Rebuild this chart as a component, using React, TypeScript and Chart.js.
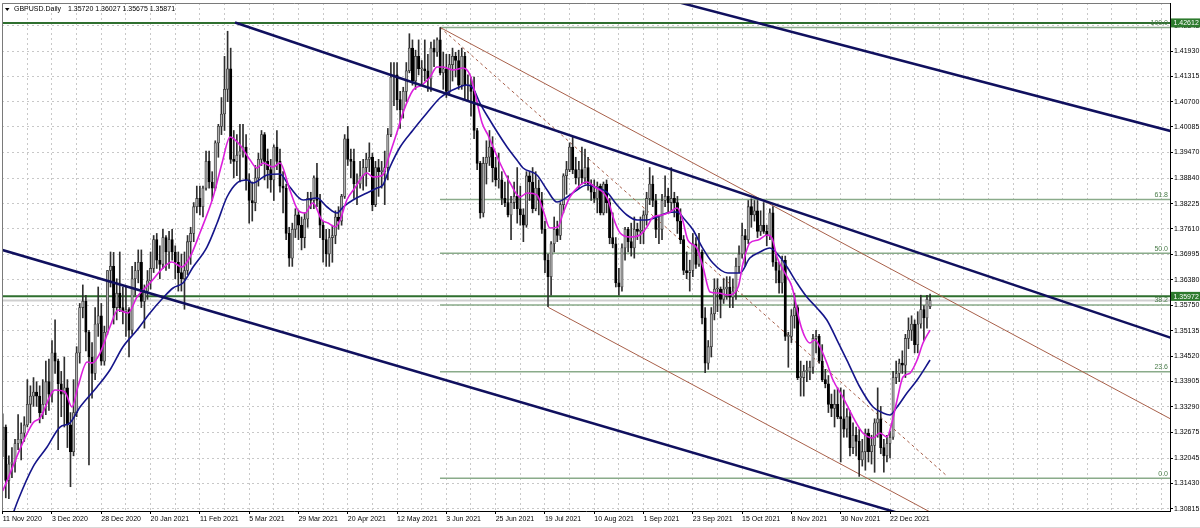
import React, { useEffect, useRef } from 'react';
import { Chart, registerables } from 'chart.js';

Chart.register(...registerables);

const symbolName = 'GBPUSD.Daily';

// Daily candles, bar 0 = 11 Nov 2020
const opens = [
  1.3250,1.3280,1.3150,1.3190,1.3195,1.3240,1.3250,1.3265,1.3285,1.3335,
  1.3355,1.3365,1.3355,1.3315,1.3335,1.3390,1.3360,1.3460,1.3440,1.3385,
  1.3360,1.3375,1.3285,1.3220,1.3315,1.3460,1.3570,1.3585,1.3510,1.3450,
  1.3410,1.3530,1.3550,1.3440,1.3510,1.3660,1.3670,1.3570,1.3605,1.3570,
  1.3560,1.3565,1.3515,1.3640,1.3660,1.3680,1.3585,1.3610,1.3635,1.3665,
  1.3735,1.3685,1.3675,1.3740,1.3705,1.3735,1.3705,1.3680,1.3655,1.3640,
  1.3660,1.3730,1.3750,1.3815,1.3835,1.3815,1.3860,1.3925,1.3875,1.3860,
  1.3970,1.4010,1.4040,1.4100,1.4150,1.3930,1.3925,1.3940,1.3950,1.3960,
  1.3880,1.3830,1.3825,1.3885,1.3930,1.3990,1.3925,1.3905,1.3880,1.3960,
  1.3925,1.3865,1.3860,1.3750,1.3690,1.3760,1.3795,1.3770,1.3740,1.3785,
  1.3835,1.3830,1.3885,1.3830,1.3770,1.3735,1.3700,1.3740,1.3745,1.3790,
  1.3780,1.3840,1.3980,1.3930,1.3925,1.3870,1.3870,1.3890,1.3910,1.3930,
  1.3935,1.3820,1.3910,1.3900,1.3900,1.3910,1.3990,1.4130,1.4135,1.4075,
  1.4050,1.4095,1.4145,1.4200,1.4120,1.4180,1.4150,1.4150,1.4145,1.4125,
  1.4200,1.4190,1.4220,1.4140,1.4150,1.4095,1.4160,1.4180,1.4170,1.4110,
  1.4180,1.4110,1.4110,1.4095,1.4000,1.3920,1.3800,1.3920,1.3935,1.3960,
  1.3910,1.3880,1.3880,1.3835,1.3825,1.3795,1.3825,1.3840,1.3810,1.3795,
  1.3770,1.3890,1.3875,1.3810,1.3860,1.3830,1.3760,1.3685,1.3645,1.3725,
  1.3760,1.3745,1.3820,1.3890,1.3905,1.3960,1.3905,1.3885,1.3905,1.3885,
  1.3910,1.3870,1.3850,1.3835,1.3865,1.3800,1.3870,1.3825,1.3740,1.3725,
  1.3630,1.3620,1.3715,1.3760,1.3730,1.3715,1.3760,1.3755,1.3755,1.3795,
  1.3835,1.3870,1.3830,1.3760,1.3760,1.3830,1.3840,1.3825,1.3835,1.3825,
  1.3780,1.3735,1.3660,1.3655,1.3660,1.3725,1.3675,1.3705,1.3545,1.3435,
  1.3475,1.3555,1.3615,1.3615,1.3590,1.3615,1.3620,1.3595,1.3610,1.3670,
  1.3700,1.3745,1.3735,1.3815,1.3795,1.3805,1.3755,1.3770,1.3755,1.3745,
  1.3800,1.3680,1.3660,1.3630,1.3685,1.3500,1.3500,1.3550,1.3570,1.3400,
  1.3400,1.3415,1.3415,1.3425,1.3495,1.3500,1.3440,1.3395,1.3385,1.3335,
  1.3325,1.3335,1.3305,1.3300,1.3275,1.3305,1.3230,1.3260,1.3245,1.3200,
  1.3220,1.3265,1.3220,1.3235,1.3290,1.3300,1.3230,1.3210,1.3240,1.3255,
  1.3400,1.3410,1.3435,1.3430,1.3495,1.3515,1.3530,1.3480,1.3530,1.3565,
  1.3545,1.35720,
];
const highs = [
  1.3312,1.3285,1.3210,1.3230,1.3250,1.3310,1.3290,1.3305,1.3395,1.3380,
  1.3400,1.3390,1.3380,1.3395,1.3440,1.3445,1.3490,1.3540,1.3445,1.3415,
  1.3450,1.3395,1.3315,1.3395,1.3475,1.3580,1.3625,1.3600,1.3515,1.3485,
  1.3570,1.3620,1.3580,1.3525,1.3660,1.3705,1.3704,1.3640,1.3705,1.3620,
  1.3620,1.3570,1.3670,1.3680,1.3710,1.3710,1.3625,1.3660,1.3705,1.3745,
  1.3750,1.3720,1.3760,1.3745,1.3755,1.3760,1.3720,1.3705,1.3700,1.3705,
  1.3745,1.3765,1.3825,1.3865,1.3865,1.3865,1.3950,1.3950,1.3900,1.3975,
  1.4015,1.4080,1.4180,1.4241,1.4200,1.4000,1.3990,1.4015,1.4015,1.3990,
  1.3895,1.3875,1.3915,1.3945,1.4000,1.3995,1.3955,1.3930,1.3965,1.4000,
  1.3955,1.3900,1.3870,1.3765,1.3775,1.3810,1.3805,1.3790,1.3800,1.3850,
  1.3850,1.3890,1.3920,1.3845,1.3780,1.3760,1.3760,1.3770,1.3805,1.3815,
  1.3845,1.3990,1.4010,1.3955,1.3955,1.3895,1.3925,1.3930,1.3945,1.3970,
  1.3945,1.3925,1.3930,1.3925,1.3950,1.4005,1.4165,1.4165,1.4165,1.4095,
  1.4105,1.4165,1.4235,1.4220,1.4195,1.4220,1.4170,1.4220,1.4185,1.4215,
  1.4220,1.4225,1.4250,1.4190,1.4185,1.4185,1.4200,1.4190,1.4195,1.4200,
  1.4190,1.4135,1.4130,1.4130,1.4005,1.3925,1.3935,1.3975,1.4000,1.3985,
  1.3935,1.3945,1.3900,1.3875,1.3890,1.3840,1.3875,1.3910,1.3865,1.3810,
  1.3900,1.3900,1.3910,1.3900,1.3880,1.3850,1.3780,1.3700,1.3730,1.3790,
  1.3780,1.3825,1.3895,1.3925,1.3970,1.3985,1.3935,1.3925,1.3960,1.3955,
  1.3935,1.3880,1.3880,1.3875,1.3870,1.3875,1.3880,1.3835,1.3800,1.3740,
  1.3665,1.3725,1.3765,1.3765,1.3775,1.3790,1.3775,1.3790,1.3805,1.3850,
  1.3910,1.3890,1.3845,1.3790,1.3845,1.3890,1.3860,1.3910,1.3850,1.3840,
  1.3810,1.3745,1.3705,1.3685,1.3750,1.3740,1.3750,1.3710,1.3570,1.3490,
  1.3570,1.3640,1.3640,1.3620,1.3640,1.3645,1.3645,1.3640,1.3690,1.3720,
  1.3775,1.3760,1.3830,1.3834,1.3830,1.3830,1.3805,1.3825,1.3770,1.3810,
  1.3815,1.3700,1.3680,1.3695,1.3695,1.3510,1.3565,1.3605,1.3575,1.3440,
  1.3430,1.3440,1.3440,1.3505,1.3515,1.3505,1.3480,1.3420,1.3405,1.3360,
  1.3370,1.3375,1.3375,1.3370,1.3325,1.3320,1.3290,1.3280,1.3275,1.3250,
  1.3275,1.3275,1.3260,1.3300,1.3375,1.3330,1.3250,1.3260,1.3270,1.3415,
  1.3440,1.3445,1.3465,1.3505,1.3545,1.3550,1.3540,1.3560,1.3600,1.3575,
  1.3600,1.36027,
];
const lows = [
  1.3208,1.3108,1.3106,1.3157,1.3170,1.3225,1.3200,1.3245,1.3280,1.3290,
  1.3330,1.3330,1.3290,1.3300,1.3310,1.3320,1.3340,1.3410,1.3225,1.3305,
  1.3280,1.3230,1.3135,1.3210,1.3305,1.3435,1.3545,1.3465,1.3188,1.3350,
  1.3395,1.3500,1.3430,1.3430,1.3505,1.3620,1.3530,1.3540,1.3560,1.3530,
  1.3500,1.3450,1.3505,1.3600,1.3630,1.3570,1.3520,1.3590,1.3615,1.3655,
  1.3665,1.3640,1.3665,1.3660,1.3665,1.3685,1.3640,1.3610,1.3610,1.3566,
  1.3650,1.3675,1.3730,1.3800,1.3795,1.3790,1.3855,1.3860,1.3830,1.3855,
  1.3935,1.3990,1.4000,1.4070,1.3920,1.3885,1.3890,1.3875,1.3935,1.3855,
  1.3775,1.3780,1.3805,1.3865,1.3915,1.3880,1.3860,1.3850,1.3830,1.3905,
  1.3850,1.3800,1.3735,1.3670,1.3670,1.3740,1.3735,1.3710,1.3715,1.3765,
  1.3810,1.3810,1.3815,1.3740,1.3680,1.3670,1.3670,1.3680,1.3725,1.3760,
  1.3770,1.3835,1.3915,1.3885,1.3835,1.3820,1.3860,1.3855,1.3865,1.3900,
  1.3805,1.3815,1.3840,1.3860,1.3820,1.3880,1.3985,1.4060,1.4050,1.4005,
  1.4030,1.4070,1.4140,1.4110,1.4100,1.4135,1.4110,1.4120,1.4095,1.4095,
  1.4155,1.4180,1.4135,1.4100,1.4080,1.4085,1.4120,1.4130,1.4100,1.4100,
  1.4075,1.4070,1.4035,1.3980,1.3905,1.3787,1.3790,1.3870,1.3915,1.3875,
  1.3865,1.3860,1.3820,1.3815,1.3790,1.3735,1.3810,1.3775,1.3770,1.3730,
  1.3765,1.3830,1.3800,1.3805,1.3795,1.3750,1.3655,1.3572,1.3600,1.3705,
  1.3730,1.3735,1.3800,1.3845,1.3900,1.3895,1.3870,1.3860,1.3870,1.3870,
  1.3855,1.3830,1.3825,1.3800,1.3795,1.3795,1.3800,1.3725,1.3715,1.3620,
  1.3600,1.3610,1.3685,1.3705,1.3695,1.3690,1.3735,1.3725,1.3725,1.3770,
  1.3820,1.3815,1.3740,1.3725,1.3735,1.3815,1.3800,1.3805,1.3790,1.3750,
  1.3725,1.3650,1.3640,1.3610,1.3645,1.3665,1.3670,1.3530,1.3412,1.3420,
  1.3450,1.3540,1.3560,1.3545,1.3580,1.3590,1.3570,1.3570,1.3590,1.3655,
  1.3690,1.3670,1.3725,1.3765,1.3780,1.3740,1.3745,1.3750,1.3720,1.3735,
  1.3670,1.3630,1.3605,1.3605,1.3490,1.3425,1.3485,1.3520,1.3395,1.3355,
  1.3355,1.3390,1.3395,1.3410,1.3460,1.3435,1.3390,1.3375,1.3315,1.3305,
  1.3280,1.3300,1.3195,1.3255,1.3255,1.3210,1.3215,1.3210,1.3160,1.3185,
  1.3175,1.3195,1.3190,1.3170,1.3255,1.3215,1.3170,1.3195,1.3205,1.3250,
  1.3385,1.3390,1.3410,1.3400,1.3470,1.3490,1.3460,1.3460,1.3520,1.3490,
  1.3520,1.35675,
];
const closes = [
  1.3280,1.3150,1.3190,1.3195,1.3240,1.3250,1.3265,1.3285,1.3335,1.3355,
  1.3365,1.3355,1.3315,1.3335,1.3390,1.3360,1.3460,1.3440,1.3385,1.3360,
  1.3375,1.3285,1.3220,1.3315,1.3460,1.3570,1.3585,1.3510,1.3450,1.3410,
  1.3530,1.3550,1.3440,1.3510,1.3660,1.3670,1.3570,1.3605,1.3570,1.3560,
  1.3565,1.3515,1.3640,1.3660,1.3680,1.3585,1.3610,1.3635,1.3665,1.3735,
  1.3685,1.3675,1.3740,1.3705,1.3735,1.3705,1.3680,1.3655,1.3640,1.3660,
  1.3730,1.3750,1.3815,1.3835,1.3815,1.3860,1.3925,1.3875,1.3860,1.3970,
  1.4010,1.4040,1.4100,1.4150,1.3930,1.3925,1.3940,1.3950,1.3960,1.3880,
  1.3830,1.3825,1.3885,1.3930,1.3990,1.3925,1.3905,1.3880,1.3960,1.3925,
  1.3865,1.3860,1.3750,1.3690,1.3760,1.3795,1.3770,1.3740,1.3785,1.3835,
  1.3830,1.3885,1.3830,1.3770,1.3735,1.3700,1.3740,1.3745,1.3790,1.3780,
  1.3840,1.3980,1.3930,1.3925,1.3870,1.3870,1.3890,1.3910,1.3930,1.3935,
  1.3820,1.3910,1.3900,1.3900,1.3910,1.3990,1.4130,1.4135,1.4075,1.4050,
  1.4095,1.4145,1.4200,1.4120,1.4180,1.4150,1.4150,1.4145,1.4125,1.4200,
  1.4190,1.4220,1.4140,1.4150,1.4095,1.4160,1.4180,1.4170,1.4110,1.4180,
  1.4110,1.4110,1.4095,1.4000,1.3920,1.3800,1.3920,1.3935,1.3960,1.3910,
  1.3880,1.3880,1.3835,1.3825,1.3795,1.3825,1.3840,1.3810,1.3795,1.3770,
  1.3890,1.3875,1.3810,1.3860,1.3830,1.3760,1.3685,1.3645,1.3725,1.3760,
  1.3745,1.3820,1.3890,1.3905,1.3960,1.3905,1.3885,1.3905,1.3885,1.3910,
  1.3870,1.3850,1.3835,1.3865,1.3800,1.3870,1.3825,1.3740,1.3725,1.3630,
  1.3620,1.3715,1.3760,1.3730,1.3715,1.3760,1.3755,1.3755,1.3795,1.3835,
  1.3870,1.3830,1.3760,1.3760,1.3830,1.3840,1.3825,1.3835,1.3825,1.3780,
  1.3735,1.3660,1.3655,1.3660,1.3725,1.3675,1.3705,1.3545,1.3435,1.3475,
  1.3555,1.3615,1.3615,1.3590,1.3615,1.3620,1.3595,1.3610,1.3670,1.3700,
  1.3745,1.3735,1.3815,1.3795,1.3805,1.3755,1.3770,1.3755,1.3745,1.3800,
  1.3680,1.3660,1.3630,1.3685,1.3500,1.3500,1.3550,1.3570,1.3400,1.3400,
  1.3415,1.3415,1.3425,1.3495,1.3500,1.3440,1.3395,1.3385,1.3335,1.3325,
  1.3335,1.3305,1.3300,1.3275,1.3305,1.3230,1.3260,1.3245,1.3200,1.3220,
  1.3265,1.3220,1.3235,1.3290,1.3300,1.3230,1.3210,1.3240,1.3255,1.3400,
  1.3410,1.3435,1.3430,1.3495,1.3515,1.3530,1.3480,1.3530,1.3565,1.3545,
  1.3590,1.35871,
];

// Fast moving average (magenta): bar positions and values
const maFastBars = [0,9.8,12.1,17.0,20.2,22.5,24.4,27.4,29.0,31.6,34.8,37.4,40.7,43.6,47.8,52.0,54.9,58.2,60.8,64.0,68.3,71.2,73.8,77.0,80.3,82.5,84.5,87.7,90.0,93.2,95.8,98.1,100.7,103.6,105.6,107.9,109.5,111.7,114.3,118.2,120.2,123.4,125.0,127.9,129.9,133.2,136.1,138.7,141.0,142.9,146.2,149.4,151.7,153.3,155.6,157.5,161.4,164.7,167.9,170.2,173.4,175.4,177.6,180.2,181.9,184.1,186.7,189.6,192.2,194.8,196.5,198.1,200.4,203.6,206.8,209.1,211.1,214.0,216.6,218.9,220.5,222.4,225.3,227.3,229.6,232.2,235.4,238.7,240.3,242.5,245.2,248.1,249.7,251.3,253.9,256.2,258.8,260.4,262.0,263.6,265.3,267.5,269.5,272.7,276.0,279.2,282.5,284.7,287.0,288.6,290.3,292.2,294.5,296.8,298.7,301.0];
const maFastValues = [1.31245,1.32896,1.33018,1.33698,1.33649,1.33285,1.33771,1.34378,1.34354,1.34596,1.35228,1.35641,1.35568,1.35956,1.36296,1.36660,1.36806,1.36685,1.36928,1.37510,1.38385,1.39210,1.39842,1.39647,1.39283,1.39089,1.39210,1.39113,1.39210,1.38555,1.38069,1.37996,1.38239,1.37826,1.37753,1.37656,1.37826,1.38312,1.38603,1.38967,1.38870,1.38919,1.39283,1.39939,1.40424,1.40983,1.41104,1.41299,1.41541,1.41541,1.41469,1.41517,1.41347,1.40910,1.40182,1.39890,1.39210,1.38725,1.38385,1.38482,1.38433,1.38069,1.37632,1.37656,1.37996,1.38385,1.38627,1.38749,1.38627,1.38506,1.38312,1.37899,1.37510,1.37413,1.37462,1.37656,1.37899,1.37948,1.38021,1.38118,1.37875,1.37340,1.37146,1.36685,1.36078,1.36053,1.36005,1.36199,1.36782,1.37268,1.37340,1.37462,1.37389,1.36928,1.36539,1.36199,1.35325,1.34985,1.34839,1.34912,1.34742,1.34354,1.33941,1.33528,1.33042,1.32654,1.32532,1.32654,1.32557,1.32897,1.33455,1.34014,1.34111,1.34426,1.34839,1.35155];

// Slow moving average (navy)
const maSlowBars = [2.0,5.0,9.8,14.4,18.6,21.8,25.1,30.6,34.8,39.0,43.6,47.8,52.0,55.3,58.5,61.8,66.3,69.6,72.8,76.0,79.3,81.2,85.8,90.0,93.2,97.5,102.0,105.3,108.5,110.5,113.7,118.2,121.5,123.4,125.7,129.0,133.2,137.7,141.9,144.2,147.5,150.7,152.6,154.9,157.5,163.7,166.9,168.9,173.4,176.7,179.9,183.2,186.4,189.6,192.2,196.1,199.4,202.6,205.9,209.1,212.4,215.6,218.9,221.5,224.1,227.0,230.5,235.4,239.3,242.5,245.8,249.0,252.3,254.6,257.8,261.0,264.3,267.5,270.8,274.0,278.2,282.5,285.7,288.0,290.3,293.5,296.8,301.0];
const maSlowValues = [1.30408,1.31027,1.31828,1.32314,1.32799,1.32896,1.33285,1.33771,1.34184,1.34742,1.35155,1.35568,1.35932,1.36175,1.36296,1.36685,1.37170,1.37753,1.38385,1.38724,1.38797,1.38724,1.38919,1.38943,1.38627,1.38312,1.38360,1.38142,1.37996,1.38142,1.38312,1.38482,1.38603,1.38676,1.39113,1.39599,1.40012,1.40424,1.40789,1.40910,1.41031,1.41104,1.41031,1.40667,1.40327,1.39599,1.39283,1.39089,1.38919,1.38555,1.38263,1.38385,1.38555,1.38676,1.38627,1.38506,1.38190,1.37948,1.37826,1.37826,1.37899,1.37996,1.38021,1.37826,1.37583,1.37170,1.36782,1.36539,1.36539,1.36903,1.37049,1.37146,1.36928,1.36685,1.36296,1.35956,1.35689,1.35398,1.34912,1.34426,1.33771,1.33285,1.33140,1.33091,1.33285,1.33625,1.33941,1.34426];

// Axis labels
const xLabels = ['11 Nov 2020','3 Dec 2020','28 Dec 2020','20 Jan 2021','11 Feb 2021','5 Mar 2021','29 Mar 2021','20 Apr 2021','12 May 2021','3 Jun 2021','25 Jun 2021','19 Jul 2021','10 Aug 2021','1 Sep 2021','23 Sep 2021','15 Oct 2021','8 Nov 2021','30 Nov 2021','22 Dec 2021'];
const xLabelBars = [0,16,32,48,64,80,96,112,128,144,160,176,192,208,224,240,256,272,288];
const yTickValues = [1.30815,1.31430,1.32045,1.32675,1.33290,1.33905,1.34520,1.35135,1.35750,1.36380,1.36995,1.37610,1.38225,1.38840,1.39470,1.40085,1.40700,1.41315,1.41930,1.42545];

// Fibonacci retracement
const fiboLevels = ['0.0','23.6','38.2','50.0','61.8','100.0'];
const fiboPrices = [1.31554,1.34143,1.35762,1.37017,1.38326,1.42501];
const fiboStartBar = 141.93;

// Horizontal price lines and bid
const hLinePrices = [1.42612, 1.35972];
const bidPrice = 1.35871;

// Trend lines: [bar1, price1, bar2, price2]
const navyTrendLines = [
  [75.40, 1.42622, 385, 1.34818],
  [200, 1.43494, 385, 1.39870],
  [-5, 1.37206, 300, 1.30508],
];
const brownChannelLines = [
  [141.93, 1.42505, 385, 1.32758],
  [177.08, 1.35706, 385, 1.27368],
];
const brownMedianLine = [141.93, 1.42505, 306.49, 1.31610];

const X_MIN = -0.227;
const X_MAX = 378.88;
const Y_MIN = 1.30760;
const Y_MAX = 1.43096;
const FONT = '"Liberation Sans", Arial, sans-serif';

export default function App() {
  const ref = useRef<HTMLCanvasElement | null>(null);

  useEffect(() => {
    document.body.style.margin = '0';
    const canvas = ref.current;
    if (!canvas) return;
    const n = closes.length;

    const seg = (p: number[]) => [{ x: p[0], y: p[1] }, { x: p[2], y: p[3] }];
    const lineDs = (data: any[], color: string, width: number, order: number, dash: number[] = []) => ({
      type: 'line' as const,
      data,
      borderColor: color,
      borderWidth: width,
      borderDash: dash,
      pointRadius: 0,
      fill: false,
      tension: 0,
      order,
    });

    const datasets: any[] = [];
    fiboPrices.forEach((p) => datasets.push(lineDs(seg([fiboStartBar, p, 385, p]), '#8aab8a', 1.5, 60)));
    datasets.push(lineDs(seg([-5, bidPrice, 385, bidPrice]), '#cfcfcf', 2, 61));
    hLinePrices.forEach((p) => datasets.push(lineDs(seg([-5, p, 385, p]), '#2f6f2f', 2, 59)));
    brownChannelLines.forEach((l) => datasets.push(lineDs(seg(l), '#a8604a', 1, 50)));
    datasets.push(lineDs(seg(brownMedianLine), '#a8604a', 1, 50, [3, 3]));

    datasets.push({
      type: 'bar',
      data: highs.map((h, i) => ({ x: i, y: [lows[i], h] })),
      backgroundColor: '#2e2e2e',
      barThickness: 1,
      grouped: false,
      order: 40,
    });
    datasets.push({
      type: 'bar',
      data: opens.map((o, i) => ({ x: i, y: [o, closes[i]] })),
      backgroundColor: closes.map((c, i) => (c >= opens[i] ? '#b0b0b0' : '#000000')),
      borderColor: closes.map((c, i) => (c >= opens[i] ? '#3a3a3a' : '#000000')),
      borderWidth: 0.8,
      borderSkipped: false,
      barThickness: 2.4,
      minBarLength: 1,
      grouped: false,
      order: 39,
    });

    const fastData = maFastBars.map((b, i) => ({ x: b, y: maFastValues[i] }));
    const slowData = maSlowBars.map((b, i) => ({ x: b, y: maSlowValues[i] }));
    datasets.push({ ...lineDs(slowData, '#15158a', 1.6, 21), cubicInterpolationMode: 'monotone' });
    datasets.push({ ...lineDs(fastData, '#dc1fdc', 1.6, 20), cubicInterpolationMode: 'monotone' });

    navyTrendLines.forEach((l) => datasets.push(lineDs(seg(l), '#10105e', 2.5, 10)));

    const decor = {
      id: 'decor',
      beforeDraw(chart: any) {
        const c = chart.ctx;
        c.save();
        c.fillStyle = '#ffffff';
        c.fillRect(0, 0, chart.width, chart.height);
        c.restore();
      },
      afterDraw(chart: any) {
        const c = chart.ctx;
        const a = chart.chartArea;
        const ys = chart.scales.y;
        c.save();
        c.strokeStyle = '#7a7a7a';
        c.lineWidth = 1;
        c.beginPath();
        c.moveTo(a.left + 0.5, a.bottom);
        c.lineTo(a.left + 0.5, a.top + 0.5);
        c.lineTo(a.right, a.top + 0.5);
        c.stroke();
        c.strokeStyle = '#d8d8d8';
        c.beginPath();
        c.moveTo(0, chart.height - 0.5);
        c.lineTo(chart.width, chart.height - 0.5);
        c.stroke();

        // header
        c.fillStyle = '#000';
        c.beginPath();
        c.moveTo(5, 8);
        c.lineTo(9.5, 8);
        c.lineTo(7.25, 11);
        c.closePath();
        c.fill();
        c.font = `7px ${FONT}`;
        c.textBaseline = 'middle';
        c.textAlign = 'left';
        c.fillText(symbolName, 14, 9.5);
        const last = [opens[n - 1], highs[n - 1], lows[n - 1], closes[n - 1]].map((v) => v.toFixed(5)).join(' ');
        c.fillText(last, 68, 9.5);

        // fibo labels
        c.fillStyle = '#4b7d4b';
        c.textAlign = 'right';
        c.textBaseline = 'bottom';
        fiboLevels.forEach((lv, i) => {
          const py = ys.getPixelForValue(fiboPrices[i]);
          c.fillText(lv, a.right - 2, py - 1);
        });

        // highlighted price labels
        c.textAlign = 'left';
        c.textBaseline = 'middle';
        hLinePrices.forEach((p) => {
          const py = ys.getPixelForValue(p);
          c.fillStyle = '#2d7a2d';
          c.fillRect(a.right + 1, py - 4.5, 29, 9);
          c.fillStyle = '#ffffff';
          c.fillText(p.toFixed(5), a.right + 3.5, py + 0.5);
        });
        c.restore();
      },
    };

    const chart = new Chart(canvas, {
      type: 'bar',
      data: { datasets },
      plugins: [decor],
      options: {
        animation: false,
        responsive: false,
        devicePixelRatio: 1,
        events: [],
        layout: { padding: { left: 2, top: 3, right: 0, bottom: 0 }, autoPadding: false },
        plugins: { legend: { display: false }, tooltip: { enabled: false }, title: { display: false } },
        scales: {
          x: {
            type: 'linear',
            position: 'bottom',
            min: X_MIN,
            max: X_MAX,
            offset: false,
            afterBuildTicks: (s: any) => {
              const t: any[] = [];
              for (let v = 0; v <= X_MAX; v += 8) t.push({ value: v });
              s.ticks = t;
            },
            afterFit: (s: any) => {
              s.height = 17;
              s.paddingLeft = 0;
              s.paddingRight = 0;
            },
            ticks: {
              autoSkip: false,
              maxRotation: 0,
              minRotation: 0,
              align: 'start',
              padding: 1,
              color: '#000',
              font: { family: FONT, size: 7 },
              callback: (v: any) => {
                const k = xLabelBars.indexOf(Number(v));
                return k >= 0 ? xLabels[k] : '';
              },
            },
            grid: {
              offset: false,
              color: '#c8c8c8',
              lineWidth: 1,
              drawTicks: true,
              tickLength: 3,
              tickColor: (ctx: any) => (ctx.tick && xLabelBars.indexOf(ctx.tick.value) >= 0 ? '#000' : 'rgba(0,0,0,0)'),
            },
            border: { display: true, color: '#000', width: 1, dash: [2, 3] },
          },
          y: {
            type: 'linear',
            position: 'right',
            min: Y_MIN,
            max: Y_MAX,
            afterBuildTicks: (s: any) => {
              s.ticks = yTickValues.map((v) => ({ value: v }));
            },
            afterFit: (s: any) => {
              s.width = 30;
              s.paddingTop = 0;
              s.paddingBottom = 0;
            },
            ticks: {
              autoSkip: false,
              padding: 1,
              color: '#000',
              font: { family: FONT, size: 7 },
              callback: (v: any) => Number(v).toFixed(5),
            },
            grid: { color: '#c8c8c8', lineWidth: 1, drawTicks: true, tickLength: 3, tickColor: '#000' },
            border: { display: true, color: '#000', width: 1, dash: [2, 3] },
          },
        },
      } as any,
    });

    return () => chart.destroy();
  }, []);

  return (
    <div style={{ position: 'absolute', left: 0, top: 0, width: 1200, height: 528, background: '#fff' }}>
      <canvas ref={ref} width={1200} height={528} style={{ display: 'block', width: 1200, height: 528 }} />
    </div>
  );
}
